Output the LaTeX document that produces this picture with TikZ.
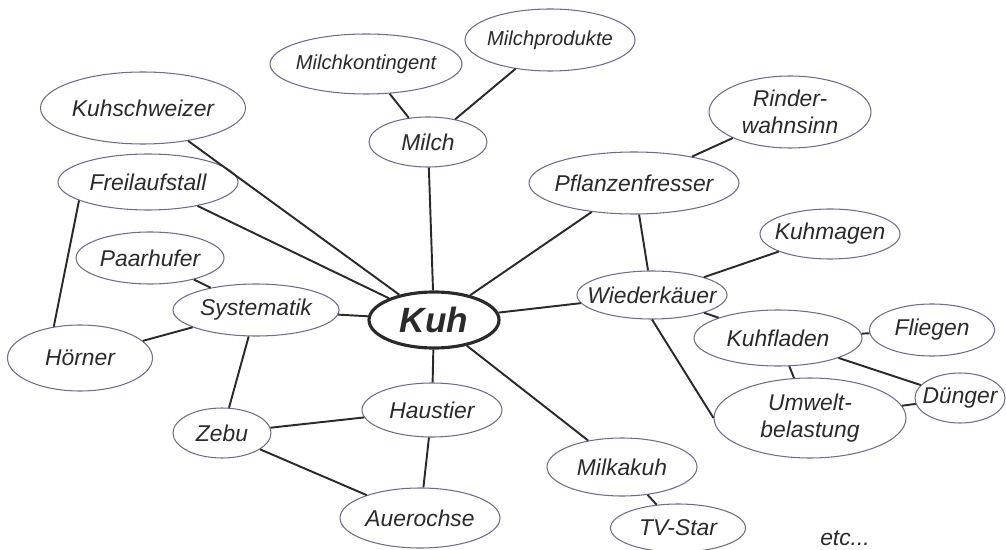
\documentclass[tikz,border=0pt]{standalone}
\usepackage{fontspec}
\setmainfont{Liberation Sans}
\usetikzlibrary{shapes}
\definecolor{inkblue}{HTML}{6E6C8C}
\definecolor{inkdark}{HTML}{2A2A2A}

\begin{document}
\begin{tikzpicture}[x=0.02cm, y=-0.02cm,
  idea/.style n args={3}{ellipse, draw=inkblue, line width=0.6pt,
    minimum width=#1*0.02cm, minimum height=#2*0.02cm, inner sep=0pt,
    label={[ideatext]center:{#3}}},
  ideatext/.style={font=\fontsize{13}{15}\selectfont\itshape, text=inkdark, align=center},
  link/.style={draw=inkdark, line width=1.1pt}]
\useasboundingbox (0,0) rectangle (1006,550);
% centre
\node[idea={130}{56}{\fontsize{20}{24}\selectfont\bfseries Kuh}, draw=inkdark, line width=1.8pt] at (434, 320) (kuh) {};
% upper left
\node[idea={118}{50}{Milch}]                at (428, 142) (milch) {};
\node[idea={192}{60}{\fontsize{11.5}{13}\selectfont Milchkontingent}] at (366, 64) (kontingent) {};
\node[idea={170}{62}{\fontsize{11.5}{13}\selectfont Milchprodukte}]   at (550, 40) (produkte) {};
\node[idea={205}{72}{Kuhschweizer}]         at (143, 108) (schweizer) {};
\node[idea={180}{56}{Freilaufstall}]        at (148, 182) (freilauf) {};
\node[idea={148}{52}{Paarhufer}]            at (150, 258) (paarhufer) {};
\node[idea={166}{52}{Systematik}]           at (256, 310) (systematik) {};
\node[idea={145}{66}{Hörner}]               at (80, 358)  (hoerner) {};
% lower left
\node[idea={98}{50}{Zebu}]                  at (222, 433) (zebu) {};
\node[idea={140}{54}{Haustier}]             at (432, 410) (haustier) {};
\node[idea={160}{60}{Auerochse}]            at (420, 518) (auerochse) {};
% right
\node[idea={210}{62}{Pflanzenfresser}]      at (634, 183) (pflanzen) {};
\node[idea={162}{72}{Rinder-\\wahnsinn}]    at (790, 112) (rinder) {};
\node[idea={150}{48}{Wiederkäuer}]          at (652, 295) (wieder) {};
\node[idea={140}{50}{Kuhmagen}]             at (830, 234) (magen) {};
\node[idea={168}{56}{Kuhfladen}]            at (778, 338) (fladen) {};
\node[idea={125}{52}{Fliegen}]              at (932, 330) (fliegen) {};
\node[idea={192}{80}{Umwelt-\\belastung}]   at (810, 418) (umwelt) {};
\node[idea={90}{50}{Dünger}]                at (960, 398) (duenger) {};
\node[idea={150}{58}{Milkakuh}]             at (622, 467) (milka) {};
\node[idea={135}{48}{TV-Star}]              at (678, 528) (tvstar) {};
\node[ideatext] at (845, 538) (etc) {etc...};
% links
\draw[link] (kuh) -- (milch);
\draw[link] (milch) -- (kontingent);
\draw[link] (milch) -- (produkte);
\draw[link] (kuh) -- (schweizer);
\draw[link] (kuh) -- (freilauf);
\draw[link] (freilauf.195) -- (hoerner.130);
\draw[link] (kuh) -- (systematik);
\draw[link] (systematik) -- (paarhufer);
\draw[link] (systematik) -- (hoerner);
\draw[link] (systematik) -- (zebu);
\draw[link] (kuh) -- (haustier);
\draw[link] (zebu) -- (haustier);
\draw[link] (zebu) -- (auerochse);
\draw[link] (haustier) -- (auerochse);
\draw[link] (kuh) -- (pflanzen);
\draw[link] (pflanzen) -- (rinder);
\draw[link] (pflanzen) -- (wieder);
\draw[link] (kuh) -- (wieder);
\draw[link] (wieder) -- (magen);
\draw[link] (wieder) -- (fladen);
\draw[link] (wieder.south) -- (umwelt.west);
\draw[link] (fladen) -- (fliegen);
\draw[link] (fladen) -- (duenger);
\draw[link] (fladen) -- (umwelt);
\draw[link] (umwelt) -- (duenger);
\draw[link] (kuh) -- (milka);
\draw[link] (milka) -- (tvstar);
\end{tikzpicture}
\end{document}
